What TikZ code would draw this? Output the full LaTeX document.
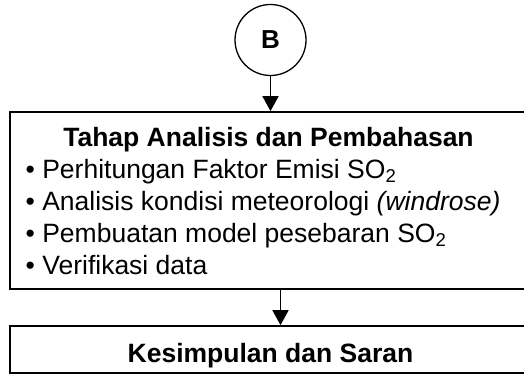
\documentclass[tikz,border=0pt]{standalone}
\usepackage{fontspec}
\setmainfont{Liberation Sans}
\usetikzlibrary{positioning, arrows.meta}

\tikzset{
	kotak/.style={draw, line width=2pt, minimum width=522pt, inner sep=0pt},
	lingkaran/.style={draw, circle, line width=1.3pt, minimum size=71pt, inner sep=0pt, font=\fontsize{26}{30}\selectfont\bfseries},
	judul/.style={anchor=base, inner sep=0pt, font=\fontsize{26.5}{32}\selectfont\bfseries},
	butir/.style={anchor=base west, inner sep=0pt, font=\fontsize{26.5}{32}\selectfont},
	panah/.style={line width=1.8pt, -{Triangle[width=16pt, length=15pt]}}
}

\begin{document}
\begin{tikzpicture}[x=1pt, y=1pt, node distance=35pt]
		\useasboundingbox (0,0) rectangle (524,-374);
		
		\node[lingkaran]                                          (B)       at (270.5,-40) {B};
		\node[kotak, minimum height=177pt, below=of B]            (tahap)   {};
		\node[kotak, text height=36pt, text depth=11pt, below=of tahap, font=\fontsize{26.5}{32}\selectfont\bfseries] (simpul) {Kesimpulan dan Saran};
		
		% isi kotak tahap
		\node[judul] (tahap judul) at ([xshift=-2pt, yshift=-35.5pt]tahap.north) {Tahap Analisis dan Pembahasan};
		\node[butir] (butir 1) at ([xshift=17pt, yshift=-67pt]tahap.north west) {\textbullet\ Perhitungan Faktor Emisi SO\textsubscript{2}};
		\node[butir] (butir 2) at ([yshift=-32pt]butir 1.base west) {\textbullet\ Analisis kondisi meteorologi \textit{(windrose)}};
		\node[butir] (butir 3) at ([yshift=-32pt]butir 2.base west) {\textbullet\ Pembuatan model pesebaran SO\textsubscript{2}};
		\node[butir] (butir 4) at ([yshift=-32pt]butir 3.base west) {\textbullet\ Verifikasi data};
		
		\draw[panah] (B) -- (tahap);
		\draw[panah] ([xshift=10pt]tahap.south) -- ([xshift=10pt]simpul.north);
	\end{tikzpicture}
\end{document}
